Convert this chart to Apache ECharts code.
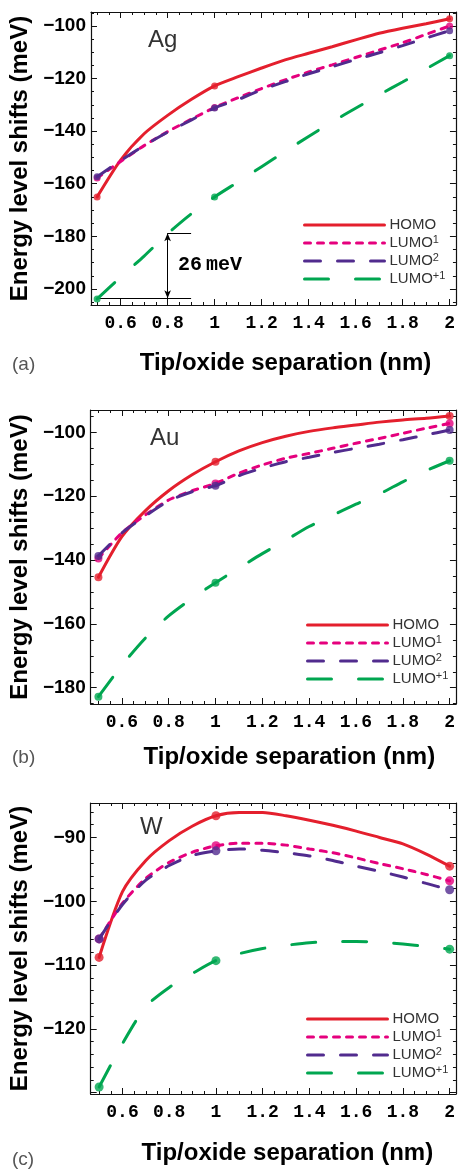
<!DOCTYPE html>
<html>
<head>
<meta charset="utf-8">
<script src="https://cdn.jsdelivr.net/npm/echarts@6/dist/echarts.min.js"></script>
<style>
	html, body { margin: 0; padding: 0; background: #fff; }
	.panel { width: 458px; height: 390px; }
</style>
</head>
<body>
<div id="panelA" class="panel"></div>
<div id="panelB" class="panel"></div>
<div id="panelC" class="panel"></div>
<script>
	/* data */
	var sep = [0.5, 0.6, 0.7, 0.8, 0.9, 1, 1.1, 1.2, 1.3, 1.4, 1.5, 1.6, 1.7, 1.8, 1.9, 2];
	var dotSep = [0.5, 1, 2];
	var levelNames = ['HOMO', 'LUMO1', 'LUMO2', 'LUMO+1'];

	var agHomo  = [-165, -151, -141, -134, -128, -122.8, -119.3, -116, -112.9, -110.4, -107.9, -105.3, -102.8, -100.9, -99.2, -97.3];
	var agLumo1 = [-157.8, -151.5, -145.5, -140.2, -135.5, -131, -127.3, -123.8, -120.5, -117.5, -114.8, -112, -109.2, -106.4, -103.2, -100];
	var agLumo2 = [-157.3, -151.2, -145.5, -140.4, -135.8, -131.2, -128, -124.3, -121.2, -118.2, -115.5, -112.8, -110.2, -107.5, -104.6, -101.8];
	var agLumoP = [-203.8, -195.5, -187.5, -179, -171.5, -165, -159.3, -153.5, -147.7, -142, -136.5, -131.3, -126.2, -121.3, -116.3, -111.3];

	var auHomo  = [-145.4, -132.7, -124.6, -118.3, -113.3, -109.2, -105.8, -103.2, -101.2, -99.7, -98.6, -97.7, -96.8, -96.1, -95.6, -94.9];
	var auLumo1 = [-139.5, -131.5, -125.9, -121.2, -118.3, -116, -112.8, -110.2, -108.1, -106.6, -105, -103.4, -101.9, -100.3, -98.7, -97.2];
	var auLumo2 = [-138.7, -131.5, -126.2, -121.5, -118.6, -116.7, -113.6, -111.2, -109.2, -107.8, -106.3, -105, -103.7, -102.3, -100.8, -99.3];
	var auLumoP = [-182.8, -173, -164.5, -157.5, -152, -147.1, -142.5, -138, -133.8, -129.5, -126, -122.5, -119.3, -115.5, -112, -108.9];

	var wHomo  = [-108.8, -98.5, -93.6, -90.5, -88.2, -86.6, -86.1, -86.1, -86.6, -87.3, -88.1, -89, -90, -91, -92.6, -94.5];
	var wLumo1 = [-105.9, -100.3, -96.4, -93.9, -92.3, -91.3, -90.9, -90.9, -91.2, -91.8, -92.4, -93.2, -94.1, -94.9, -95.8, -96.8];
	var wLumo2 = [-105.9, -100.5, -96.7, -94.4, -92.8, -92.1, -91.8, -92, -92.4, -92.9, -93.6, -94.5, -95.3, -96.2, -97.2, -98.2];
	var wLumoP = [-129.1, -122.3, -116.5, -113.5, -111.3, -109.3, -108.2, -107.4, -106.9, -106.5, -106.3, -106.3, -106.4, -106.7, -107.1, -107.5];

	/* 26 meV marker in panel (a) */
	var gapSep = [0.5, 0.8, 0.9];
	var gapLevel = [-203.5, -178.8];
	var gapLabelAt = [0.98, -190.9];
	var gapText = '26\u2009meV';

	var lineColors = ['#e41f2d', '#e5007d', '#512b8e', '#00a650'];
	var lineDashes = ['solid', [6, 7], [16, 17], [24, 27]];

	function toPairs(vals) {
		return sep.map(function(x, i) { return [x, vals[i]]; });
	}
	function toDots(vals) {
		return toPairs(vals).filter(function(p) { return dotSep.indexOf(p[0]) >= 0; });
	}
	function fmtTick(step, v, floor) {
		var k = v / step;
		if (Math.abs(k - Math.round(k)) > 1e-6 || v < floor) return '';
		var s = String(+Math.abs(v).toFixed(1));
		return v < 0 ? '\u2212' + s : s;
	}
	function legendFmt(name) {
		if (name === 'HOMO') return '{b|HOMO}';
		return '{b|LUMO}{s|' + name.slice(4) + '}';
	}

	function buildOption(p) {
		var series = [];
		p.lines.forEach(function(vals, k) {
			series.push({
				name: levelNames[k],
				type: 'line',
				data: toPairs(vals),
				symbol: 'none',
				smooth: 0.25,
				z: 2 + k,
				lineStyle: { color: lineColors[k], width: 3, type: lineDashes[k], cap: 'round' },
				itemStyle: { color: lineColors[k] }
			});
		});
		p.lines.forEach(function(vals, k) {
			series.push({
				name: levelNames[k] + ' points',
				type: 'scatter',
				data: toDots(vals),
				symbolSize: p.dot,
				z: 2 + k,
				itemStyle: { color: lineColors[k] }
			});
		});
		if (p.marker) series.push(p.marker);

		var frameLine = { show: true, onZero: false, lineStyle: { color: '#111', width: 1.2 } };
		var tick = { show: true, inside: true, length: 6, lineStyle: { color: '#111', width: 1 } };
		var minorX = { show: true, splitNumber: 4, length: 3, lineStyle: { color: '#111', width: 1 } };
		var minorY = { show: true, splitNumber: p.yMinor, length: 3, lineStyle: { color: '#111', width: 1 } };

		return {
			animation: false,
			textStyle: { fontFamily: 'Liberation Sans' },
			title: [{
				text: p.metal, left: p.metalPos[0], top: p.metalPos[1], padding: 0,
				textStyle: { fontSize: 24, fontWeight: 'normal', color: '#333', fontFamily: 'Liberation Sans' }
			}, {
				text: p.tag, left: 12, top: p.tagTop, padding: 0,
				textStyle: { fontSize: 19, fontWeight: 'normal', color: '#555', fontFamily: 'Liberation Sans' }
			}],
			legend: {
				data: levelNames,
				orient: 'vertical',
				left: p.legendPos[0],
				top: p.legendPos[1],
				padding: 0,
				itemWidth: 80,
				itemHeight: 10,
				itemGap: 0,
				itemStyle: { opacity: 0 },
				lineStyle: { width: 3 },
				formatter: legendFmt,
				textStyle: {
					color: '#333', fontSize: 15, lineHeight: 18,
					rich: {
						b: { fontSize: 15, lineHeight: 18, color: '#333' },
						s: { fontSize: 11, lineHeight: 10, verticalAlign: 'top', color: '#333' }
					}
				}
			},
			grid: { left: p.grid[0], top: p.grid[1], right: p.grid[2], bottom: p.grid[3] },
			xAxis: [{
				type: 'value', position: 'bottom', min: p.xRange[0], max: p.xRange[1], splitNumber: 8,
				axisLine: frameLine, axisTick: tick, minorTick: minorX, splitLine: { show: false },
				axisLabel: {
					margin: 9, color: '#000', fontFamily: 'Liberation Mono', fontWeight: 'bold', fontSize: 18,
					showMinLabel: false, showMaxLabel: false,
					formatter: function(v) { return fmtTick(0.2, v, 0); }
				},
				name: 'Tip/oxide separation (nm)', nameLocation: 'middle', nameGap: p.xNameGap,
				nameTextStyle: { fontSize: 24, fontWeight: 'bold', color: '#000', padding: [0, 0, 0, p.xNameShift] }
			}, {
				type: 'value', position: 'top', min: p.xRange[0], max: p.xRange[1], splitNumber: 8,
				axisLine: frameLine, axisTick: tick, minorTick: minorX, splitLine: { show: false },
				axisLabel: { show: false }
			}],
			yAxis: [{
				type: 'value', position: 'left', min: p.yRange[0], max: p.yRange[1], splitNumber: 5,
				axisLine: frameLine, axisTick: tick, minorTick: minorY, splitLine: { show: false },
				axisLabel: {
					margin: 5, color: '#000', fontWeight: 'bold', fontSize: 19,
					showMinLabel: false, showMaxLabel: false,
					formatter: function(v) { return fmtTick(p.yStep, v, p.yRange[0] + 1); }
				},
				name: 'Energy level shifts (meV)', nameLocation: 'middle', nameGap: p.yNameGap,
				nameTextStyle: { fontSize: 24, fontWeight: 'bold', color: '#000' }
			}, {
				type: 'value', position: 'right', min: p.yRange[0], max: p.yRange[1], splitNumber: 5,
				axisLine: frameLine, axisTick: tick, minorTick: minorY, splitLine: { show: false },
				axisLabel: { show: false }
			}],
			series: series
		};
	}

	/* Panel (a) Ag */
	var gapMarker = {
		name: 'gap',
		type: 'scatter',
		data: [],
		silent: true,
		markLine: {
			silent: true,
			symbol: 'none',
			label: { show: false },
			lineStyle: { color: '#000', width: 1, type: 'solid' },
			data: [
				[{ coord: [gapSep[0], gapLevel[0]] }, { coord: [gapSep[2], gapLevel[0]] }],
				[{ coord: [gapSep[1], gapLevel[1]] }, { coord: [gapSep[2], gapLevel[1]] }],
				[{ coord: [gapSep[1], gapLevel[1]], symbol: 'arrow', symbolSize: [5, 8] },
				 { coord: [gapSep[1], gapLevel[0]], symbol: 'arrow', symbolSize: [5, 8] }]
			]
		},
		markPoint: {
			silent: true,
			symbol: 'circle',
			symbolSize: 0,
			label: {
				show: true, position: 'inside', formatter: gapText,
				fontFamily: 'Liberation Mono', fontWeight: 'bold', fontSize: 20, color: '#000'
			},
			data: [{ coord: gapLabelAt }]
		}
	};

	var chartA = echarts.init(document.getElementById('panelA'));
	chartA.setOption(buildOption({
		metal: 'Ag', metalPos: [148, 28], tag: '(a)', tagTop: 355,
		lines: [agHomo, agLumo1, agLumo2, agLumoP], dot: 7,
		grid: [91, 12, 1, 85], xRange: [0.474, 2.027], yRange: [-206.1, -94.7],
		yStep: 20, yMinor: 4, xNameGap: 46, xNameShift: 24, yNameGap: 47,
		legendPos: [303, 216], marker: gapMarker
	}));

	/* Panel (b) Au */
	var chartB = echarts.init(document.getElementById('panelB'));
	chartB.setOption(buildOption({
		metal: 'Au', metalPos: [150, 36], tag: '(b)', tagTop: 358,
		lines: [auHomo, auLumo1, auLumo2, auLumoP], dot: 8,
		grid: [89, 20, 1, 76], xRange: [0.467, 2.027], yRange: [-185.1, -93],
		yStep: 20, yMinor: 4, xNameGap: 41, xNameShift: 32, yNameGap: 45,
		legendPos: [306, 226]
	}));

	/* Panel (c) W */
	var chartC = echarts.init(document.getElementById('panelC'));
	chartC.setOption(buildOption({
		metal: 'W', metalPos: [140, 35], tag: '(c)', tagTop: 370,
		lines: [wHomo, wLumo1, wLumo2, wLumoP], dot: 9,
		grid: [88, 23, 1, 71], xRange: [0.464, 2.027], yRange: [-130.2, -84.6],
		yStep: 10, yMinor: 5, xNameGap: 47, xNameShift: 28, yNameGap: 44,
		legendPos: [306, 230]
	}));
</script>
</body>
</html>
